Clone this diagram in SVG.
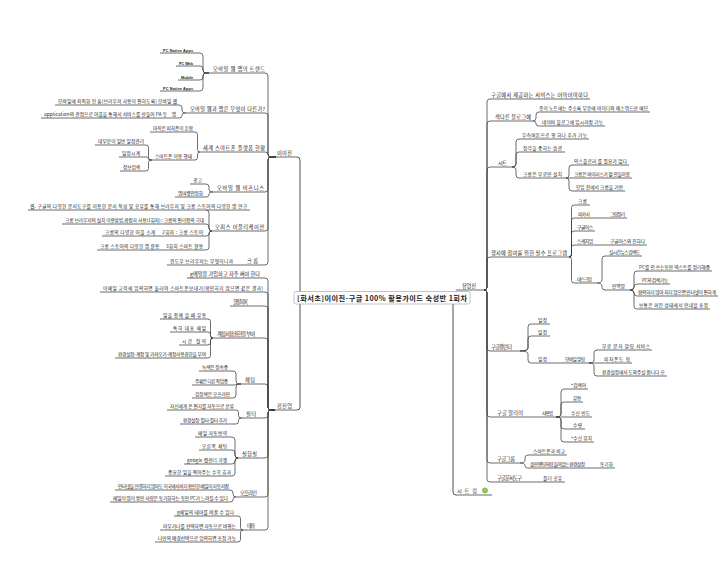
<svg xmlns="http://www.w3.org/2000/svg" width="720" height="566" viewBox="0 0 720 566">
<style>
text{font-family:"Noto Sans CJK KR","Noto Sans",sans-serif;fill:#1a1a1a;font-size:4.7px}
.n{font-size:5.2px}
.c{font-size:7.2px;font-weight:bold}
.en{font-family:"Liberation Sans",Arial,sans-serif;font-weight:bold;font-size:3.8px}
.u,.e{fill:none;stroke:#3c3c3c;stroke-width:0.75}
.e1{fill:none;stroke:#3c3c3c;stroke-width:0.9}
.box{fill:#fff;stroke:#9a9a9a;stroke-width:0.6}
</style>
<rect width="720" height="566" fill="#fff"/>
<g id="connectors">
<path class="e1" d="M300,291.5 V160 Q300,157 297,157"/>
<path class="e1" d="M300,304 V407 Q300,410 297,410"/>
<path class="e1" d="M453,304 V492 Q453,495 456,495 H457"/>
<path class="e" d="M265,73 Q268,73 268,76 V154 Q268,157 271,157 H276"/>
<path class="e" d="M265,113 Q268,113 268,116 V154 Q268,157 271,157 H276"/>
<path class="e" d="M265,152 Q268,152 268,154.5 Q268,157 270.5,157 H276"/>
<path class="e" d="M265,192 Q268,192 268,189 V160 Q268,157 271,157 H276"/>
<path class="e" d="M265,231 Q268,231 268,228 V160 Q268,157 271,157 H276"/>
<path class="e" d="M265,265 Q268,265 268,262 V160 Q268,157 271,157 H276"/>
<path class="e" d="M200,53 Q203,53 203,56 V70 Q203,73 206,73 H209"/>
<path class="e" d="M200,66 Q203,66 203,69 V70 Q203,73 206,73 H209"/>
<path class="e" d="M200,80 Q203,80 203,77 V76 Q203,73 206,73 H209"/>
<path class="e" d="M200,91 Q203,91 203,88 V76 Q203,73 206,73 H209"/>
<path class="e" d="M179,105 Q182,105 182,108 V110 Q182,113 185,113 H186"/>
<path class="e" d="M179,118 Q182,118 182,115.5 Q182,113 184.5,113 H186"/>
<path class="e" d="M195,132 Q197.5,132 197.5,134.5 V149.5 Q197.5,152 200,152"/>
<path class="e" d="M195,160 Q197.5,160 197.5,157.5 V154.5 Q197.5,152 200,152"/>
<path class="e" d="M146,145 Q148.5,145 148.5,147.5 V157.5 Q148.5,160 151,160 H152"/>
<path class="e" d="M146,157 Q148.5,157 148.5,158.5 Q148.5,160 150,160 H152"/>
<path class="e" d="M146,171 Q148.5,171 148.5,168.5 V162.5 Q148.5,160 151,160 H152"/>
<path class="e" d="M206,184 Q209,184 209,187 V189 Q209,192 212,192 H213"/>
<path class="e" d="M206,197 Q209,197 209,194.5 Q209,192 211.5,192 H213"/>
<path class="e" d="M206,210 Q209,210 209,213 V228 Q209,231 212,231"/>
<path class="e" d="M206,224 Q209,224 209,227 V228 Q209,231 212,231"/>
<path class="e" d="M206,236 Q209,236 209,233.5 Q209,231 211.5,231 H212"/>
<path class="e" d="M206,250 Q209,250 209,247 V234 Q209,231 212,231"/>
<path class="e" d="M265,278 Q268,278 268,281 V407 Q268,410 271,410 H275"/>
<path class="e" d="M265,292 Q268,292 268,295 V407 Q268,410 271,410 H275"/>
<path class="e" d="M265,306 Q268,306 268,309 V407 Q268,410 271,410 H275"/>
<path class="e" d="M265,338 Q268,338 268,341 V407 Q268,410 271,410 H275"/>
<path class="e" d="M265,384 Q268,384 268,387 V407 Q268,410 271,410 H275"/>
<path class="e" d="M265,418 Q268,418 268,415 V413 Q268,410 271,410 H275"/>
<path class="e" d="M265,458 Q268,458 268,455 V413 Q268,410 271,410 H275"/>
<path class="e" d="M265,497 Q268,497 268,494 V413 Q268,410 271,410 H275"/>
<path class="e" d="M265,530 Q268,530 268,527 V413 Q268,410 271,410 H275"/>
<path class="e" d="M208,319 Q210.5,319 210.5,321.5 V335.5 Q210.5,338 213,338"/>
<path class="e" d="M208,332 Q210.5,332 210.5,334.5 V335.5 Q210.5,338 213,338"/>
<path class="e" d="M208,345 Q210.5,345 210.5,342.5 V340.5 Q210.5,338 213,338"/>
<path class="e" d="M208,358 Q210.5,358 210.5,355.5 V340.5 Q210.5,338 213,338"/>
<path class="e" d="M233,371 Q236,371 236,374 V381 Q236,384 239,384 H241"/>
<path class="e" d="M233,385 C236,385 236,384 241,384"/>
<path class="e" d="M233,398 Q236,398 236,395 V387 Q236,384 239,384 H241"/>
<path class="e" d="M236,410 Q238.5,410 238.5,412.5 V415.5 Q238.5,418 241,418 H242"/>
<path class="e" d="M236,424 Q238.5,424 238.5,421.5 V420.5 Q238.5,418 241,418 H242"/>
<path class="e" d="M232,437 Q235,437 235,440 V455 Q235,458 238,458"/>
<path class="e" d="M232,450 Q235,450 235,453 V455 Q235,458 238,458"/>
<path class="e" d="M232,464 Q235,464 235,461 Q235,458 238,458"/>
<path class="e" d="M232,476 Q235,476 235,473 V461 Q235,458 238,458"/>
<path class="e" d="M230,490 Q233,490 233,493 V494 Q233,497 236,497"/>
<path class="e" d="M230,502 Q233,502 233,499.5 Q233,497 235.5,497 H236"/>
<path class="e" d="M238,516 Q240.5,516 240.5,518.5 V527.5 Q240.5,530 243,530"/>
<path class="e" d="M238,542 Q240.5,542 240.5,539.5 V532.5 Q240.5,530 243,530"/>
<path class="e" d="M484,290 Q487,290 487,287 V102 Q487,99 490,99"/>
<path class="e" d="M484,290 Q487,290 487,287 V124 Q487,121 490,121"/>
<path class="e" d="M484,290 Q487,290 487,287 V170 Q487,167 490,167"/>
<path class="e" d="M484,290 Q487,290 487,287 V260 Q487,257 490,257"/>
<path class="e" d="M484,290 Q487,290 487,293 V348 Q487,351 490,351"/>
<path class="e" d="M484,290 Q487,290 487,293 V414 Q487,417 490,417"/>
<path class="e" d="M484,290 Q487,290 487,293 V460 Q487,463 490,463"/>
<path class="e" d="M484,290 Q487,290 487,293 V479 Q487,482 490,482"/>
<path class="e" d="M533,121 Q536,121 536,118 V115 Q536,112 539,112"/>
<path class="e" d="M533,121 Q536,121 536,123.5 Q536,126 538.5,126 H539"/>
<path class="e" d="M512,167 Q516,167 516,164 V142 Q516,139 519,139"/>
<path class="e" d="M512,167 Q516,167 516,164 V155 Q516,152 519,152"/>
<path class="e" d="M512,167 Q516,167 516,170 V175 Q516,178 519,178"/>
<path class="e" d="M566,178 Q569,178 569,175 V168 Q569,165 572,165"/>
<path class="e" d="M566,178 Q569,178 569,181 V188 Q569,191 572,191"/>
<path class="e" d="M569,257 Q571.5,257 571.5,254.5 V207.5 Q571.5,205 574,205"/>
<path class="e" d="M569,257 Q571.5,257 571.5,254.5 V220.5 Q571.5,218 574,218"/>
<path class="e" d="M569,257 Q571.5,257 571.5,254.5 V233.5 Q571.5,231 574,231"/>
<path class="e" d="M569,257 Q571.5,257 571.5,254.5 V247.5 Q571.5,245 574,245"/>
<path class="e" d="M569,257 Q571.5,257 571.5,259.5 V280.5 Q571.5,283 574,283"/>
<path class="e" d="M597,283 Q602,283 602,280 V259 Q602,256 605,256"/>
<path class="e" d="M597,283 Q602,283 602,286 V287 Q602,290 605,290"/>
<path class="e" d="M630,290 Q634,290 634,287 V274 Q634,271 637,271"/>
<path class="e" d="M630,290 Q634,290 634,287 Q634,284 637,284"/>
<path class="e" d="M630,290 Q634,290 634,293 Q634,296 637,296"/>
<path class="e" d="M630,290 Q634,290 634,293 V306 Q634,309 637,309"/>
<path class="e" d="M520,351 Q528,351 528,348 V327 Q528,324 531,324"/>
<path class="e" d="M520,351 Q528,351 528,348 V339 Q528,336 531,336"/>
<path class="e" d="M520,351 Q528,351 528,354 V360 Q528,363 531,363"/>
<path class="e" d="M589,363 Q594,363 594,360 V353 Q594,350 597,350"/>
<path class="e" d="M589,363 Q594,363 594,366 V373 Q594,376 597,376"/>
<path class="e" d="M556,417 Q561,417 561,414 V392 Q561,389 564,389"/>
<path class="e" d="M556,417 Q561,417 561,414 V405 Q561,402 564,402"/>
<path class="e" d="M556,417 Q561,417 561,420 V426 Q561,429 564,429"/>
<path class="e" d="M556,417 Q561,417 561,420 V439 Q561,442 564,442"/>
<path class="e" d="M520,463 Q525,463 525,460 V458 Q525,455 528,455"/>
<path class="e" d="M520,463 Q525,463 525,465.5 Q525,468 527.5,468 H528"/>
</g>
<g id="root"><rect class="box" x="294" y="291.5" width="176" height="12.5" rx="2"/><text class="c" x="297" y="300.5" textLength="170">[화서초]이이진-구글 100% 활용가이드 숙성반 1회차</text></g>
<g id="yijin"><text class="n" x="277" y="155" textLength="15">이이진</text><path class="u" d="M276,157 H297"/></g>
<g id="kang"><text class="n" x="277" y="408" textLength="15">강진영</text><path class="u" d="M275,410 H297"/></g>
<g id="yoo"><text class="n" x="462" y="288" textLength="14">유영진</text><path class="u" d="M456,290 H484"/></g>
<g id="sheet-link"><text class="n" x="457" y="493" textLength="20">시트링</text><circle cx="485" cy="490.5" r="2.6" fill="#9c5" stroke="#5a3" stroke-width="0.6"/><path class="u" d="M457,495 H492"/></g>
<g id="n1"><text class="n" x="213" y="71" textLength="52">모바일 웹 앱의 트렌드</text><path class="u" d="M209,73 H265"/></g>
<g id="n1a"><text class="en" x="163" y="51.5" textLength="30">PC Native Apps</text><path class="u" d="M160,53 H200"/></g>
<g id="n1b"><text class="en" x="179" y="64.5" textLength="14">PC Web</text><path class="u" d="M176,66 H200"/></g>
<g id="n1c"><text class="en" x="181" y="78.5" textLength="12">Mobile</text><path class="u" d="M178,80 H200"/></g>
<g id="n1d"><text class="en" x="163" y="89.5" textLength="30">PC Native Apps</text><path class="u" d="M160,91 H200"/></g>
<g id="n2"><text class="n" x="190" y="111" textLength="75">모바일 웹과 앱은 무엇이 다른가?</text><path class="u" d="M186,113 H265"/></g>
<g id="n2a"><text x="58" y="103" textLength="119">모바일에 최적화 된 홈(브라우저 사용이 편하도록) 모바일 웹</text><path class="u" d="M55,105 H179"/></g>
<g id="n2b"><text x="44" y="116" textLength="132" xml:space="preserve">application의 관점으로 어플을 통해서 서비스를 만들어 PA 등    앱</text><path class="u" d="M41,118 H179"/></g>
<g id="n3"><text class="n" x="203" y="150" textLength="62">세계 스마트폰 플랫폼 현황</text><path class="u" d="M200,152 H265"/></g>
<g id="n3a"><text x="153" y="130" textLength="40">아직은 피처폰이 흔함</text><path class="u" d="M150,132 H195"/></g>
<g id="n3b"><text x="155" y="158" textLength="37">스마트폰 이용 행태</text><path class="u" d="M152,160 H195"/></g>
<g id="n3b1"><text x="98" y="143" textLength="46">대부분이 일반 일정관리</text><path class="u" d="M95,145 H146"/></g>
<g id="n3b2"><text x="122" y="155" textLength="18">일정시계</text><path class="u" d="M119,157 H146"/></g>
<g id="n3b3"><text x="123" y="169" textLength="17">정보검색</text><path class="u" d="M120,171 H146"/></g>
<g id="n4"><text class="n" x="217" y="190" textLength="47">모바일 웹 비즈니스</text><path class="u" d="M213,192 H265"/></g>
<g id="n4a"><text x="193" y="182" textLength="9">광고</text><path class="u" d="M190,184 H206"/></g>
<g id="n4b"><text x="178" y="195" textLength="25">앱마켓안정화</text><path class="u" d="M175,197 H206"/></g>
<g id="n5"><text class="n" x="215" y="229" textLength="49">오피스 어플리케이션</text><path class="u" d="M212,231 H265"/></g>
<g id="n5a"><text x="30" y="208" textLength="217">웹. 구글의 다양한 문서도구를 이용한 문서 작성 및 공유를 통해 브라우저 및 크롬 스토어의 다양한 앱 연구</text><path class="u" d="M28,210 H250"/></g>
<g id="n5b"><text x="65" y="222" textLength="139">크롬 브라우저의 설치 이용방법,확장자 사용(1회차) : 크롬의 편리함의 극대</text><path class="u" d="M62,224 H206"/></g>
<g id="n5c"><text x="105" y="234" textLength="98" xml:space="preserve">크롬의 다양한 어플 소개     2회차 : 크롬 스토어</text><path class="u" d="M102,236 H206"/></g>
<g id="n5d"><text x="100" y="248" textLength="103" xml:space="preserve">크롬 스토어의 다양한 앱 활용     3회차 스마트 활용</text><path class="u" d="M97,250 H206"/></g>
<g id="n6"><text class="n" x="247" y="263" textLength="11">크롬</text><path class="u" d="M243,265 H265"/></g>
<g id="n6a"><text x="170" y="263" textLength="63">윈도우 브라우저는 무엇이니까</text><path class="u" d="M167,265 H243"/></g>
<g id="m1"><text class="n" x="190" y="276" textLength="70">g메일을 가입하고 자주 써야 한다</text><path class="u" d="M187,278 H265"/></g>
<g id="m2"><text x="103" y="290" textLength="160">이메일 교육에 입력하면 둘러야 스마트폰보내기(확인하지 않으면 같은 결과)</text><path class="u" d="M100,292 H265"/></g>
<g id="m3"><text class="n" x="233" y="304" textLength="15">할 일 목록</text><path class="u" d="M230,306 H265"/></g>
<g id="m4"><text class="n" x="217" y="336" textLength="38">계정사용권한을 부여</text><path class="u" d="M213,338 H265"/></g>
<g id="m4a"><text x="163" y="317" textLength="43">일을 함께 할 때 유용</text><path class="u" d="M160,319 H208"/></g>
<g id="m4b"><text x="173" y="330" textLength="33">특히 대표 메일</text><path class="u" d="M170,332 H208"/></g>
<g id="m4c"><text x="182" y="343" textLength="24">시간 절약</text><path class="u" d="M179,345 H208"/></g>
<g id="m4d"><text x="118" y="356" textLength="88">환경설정-계정 및 가져오기-계정사용권한을 부여</text><path class="u" d="M115,358 H208"/></g>
<g id="m5"><text class="n" x="245" y="382" textLength="10">채팅</text><path class="u" d="M241,384 H265"/></g>
<g id="m5a"><text x="202" y="369" textLength="26">녹색은 접속중</text><path class="u" d="M199,371 H233"/></g>
<g id="m5b"><text x="195" y="383" textLength="33">주황은 다른 작업중</text><path class="u" d="M192,385 H233"/></g>
<g id="m5c"><text x="195" y="396" textLength="35">검정색은 오프라인</text><path class="u" d="M192,398 H233"/></g>
<g id="m6"><text class="n" x="246" y="416" textLength="10">필터</text><path class="u" d="M242,418 H265"/></g>
<g id="m6a"><text x="170" y="408" textLength="64">자신에게 온 편지를 자동으로 분류</text><path class="u" d="M167,410 H236"/></g>
<g id="m6b"><text x="183" y="422" textLength="44">환경설정-필터-필터 추가</text><path class="u" d="M180,424 H236"/></g>
<g id="m7"><text class="n" x="242" y="456" textLength="15">실험실</text><path class="u" d="M238,458 H265"/></g>
<g id="m7a"><text x="198" y="435" textLength="29">메일 자동번역</text><path class="u" d="M195,437 H232"/></g>
<g id="m7b"><text x="202" y="448" textLength="25">오른쪽 채팅</text><path class="u" d="M199,450 H232"/></g>
<g id="m7c"><text x="187" y="462" textLength="40">google 캘린더 가젯</text><path class="u" d="M184,464 H232"/></g>
<g id="m7d"><text x="168" y="474" textLength="63">중요한 일을 찍어주는 수학 효과</text><path class="u" d="M165,476 H232"/></g>
<g id="m8"><text class="n" x="240" y="495" textLength="17">오프라인</text><path class="u" d="M236,497 H265"/></g>
<g id="m8a"><text x="118" y="488" textLength="111">인터넷을 연결하지 않아도 이국에서까지 확인한 메일이 자동저장</text><path class="u" d="M115,490 H230"/></g>
<g id="m8b"><text x="113" y="500" textLength="115">메일이 많이 쌓인 사람은 동기화하는 동안 PC가 느려질 수 있다</text><path class="u" d="M110,502 H230"/></g>
<g id="m9"><text class="n" x="247" y="528" textLength="8">테마</text><path class="u" d="M243,530 H265"/></g>
<g id="m9a"><text x="177" y="514" textLength="57">g메일의 테마를 바꿀 수 있다</text><path class="u" d="M174,516 H238"/></g>
<g id="m9b"><text x="163" y="528" textLength="73">아무거나를 선택하면 자동으로 바뀌는</text><path class="u" d="M160,530 H243"/></g>
<g id="m9c"><text x="158" y="540" textLength="78">나만의 배경선택으로 입력하면 조정 가능</text><path class="u" d="M155,542 H238"/></g>
<g id="r1"><text class="n" x="491" y="97" textLength="97">구글에서 제공하는 서비스는 어마어마하다</text><path class="u" d="M490,99 H590"/></g>
<g id="r2"><text class="n" x="495" y="119" textLength="36">색다른 블로그에</text><path class="u" d="M490,121 H533"/></g>
<g id="r2a"><text x="539" y="110" textLength="109">종이 노트에는 주소록 부분에 아이디와 패스워드만 메모</text><path class="u" d="M539,112 H650"/></g>
<g id="r2b"><text x="542" y="124" textLength="61">네이버 블로그에 임시저장 기능</text><path class="u" d="M539,126 H605"/></g>
<g id="r3"><text class="n" x="498" y="165" textLength="9">시트</text><path class="u" d="M490,167 H512"/></g>
<g id="r3a"><text x="522" y="137" textLength="65">우측버튼으로 행 하나 추가 기능</text><path class="u" d="M519,139 H589"/></g>
<g id="r3b"><text x="523" y="150" textLength="39">정각을 중하는 습관</text><path class="u" d="M519,152 H565"/></g>
<g id="r3c"><text x="523" y="176" textLength="39">크롬은 무료인 설치</text><path class="u" d="M519,178 H566"/></g>
<g id="r3c1"><text x="574" y="163" textLength="53">익스플로러 를 필요가 없다</text><path class="u" d="M572,165 H629"/></g>
<g id="r3c2"><text x="574" y="176" textLength="56">크롬은 바이러스가 잘 안들어옴</text><path class="u" d="M566,178 H632"/></g>
<g id="r3c3"><text x="576" y="189" textLength="47">모임 전에서 크롬을 기반</text><path class="u" d="M572,191 H625"/></g>
<g id="r4"><text class="n" x="491" y="255" textLength="76">행사에 참여를 위한 필수 프로그램</text><path class="u" d="M490,257 H569"/></g>
<g id="r4a"><text x="578" y="203" textLength="9">크롬</text><path class="u" d="M574,205 H590"/></g>
<g id="r4b"><text x="578" y="216" textLength="12">피카사</text><path class="u" d="M574,218 H606"/></g>
<g id="r4b1"><text x="610" y="216" textLength="15">그림정리</text><path class="u" d="M606,218 H627"/></g>
<g id="r4c"><text x="577" y="229" textLength="16">구글어스</text><path class="u" d="M574,231 H595"/></g>
<g id="r4d"><text x="577" y="243" textLength="16">스케치업</text><path class="u" d="M574,245 H606"/></g>
<g id="r4d1"><text x="610" y="243" textLength="35">구글어스와 친하다</text><path class="u" d="M606,245 H647"/></g>
<g id="r4e"><text x="577" y="281" textLength="15">데스크탑</text><path class="u" d="M574,283 H597"/></g>
<g id="r4e1"><text x="609" y="254" textLength="31">실시간 뉴스 검색도</text><path class="u" d="M605,256 H642"/></g>
<g id="r4e2"><text x="612" y="288" textLength="13">인맥망</text><path class="u" d="M605,290 H630"/></g>
<g id="r4e2a"><text x="639" y="269" textLength="71">PC를 안 쓰는동안 텍스트를 정리해줌</text><path class="u" d="M637,271 H712"/></g>
<g id="r4e2b"><text x="642" y="282" textLength="26">PC의 검색기능</text><path class="u" d="M637,284 H670"/></g>
<g id="r4e2c"><text x="638" y="294" textLength="78">협력하지 않아 처지 않으면 인터넷이 편하게</text><path class="u" d="M637,296 H718"/></g>
<g id="r4e2d"><text x="639" y="307" textLength="69">보통은 꺼진 상태에서 안내할 표정</text><path class="u" d="M637,309 H710"/></g>
<g id="r5"><text class="n" x="491" y="349" textLength="21">구글캘린더</text><path class="u" d="M490,351 H520"/></g>
<g id="r5a"><text x="538" y="322" textLength="9">일정</text><path class="u" d="M531,324 H550"/></g>
<g id="r5b"><text x="538" y="334" textLength="9">일정</text><path class="u" d="M531,336 H550"/></g>
<g id="r5c"><text x="538" y="361" textLength="9">일정</text><path class="u" d="M531,363 H560"/></g>
<g id="r5c1"><text x="565" y="361" textLength="20">모바일 알림</text><path class="u" d="M560,363 H589"/></g>
<g id="r5c1a"><text x="602" y="348" textLength="48">무료 문자 알림 서비스</text><path class="u" d="M597,350 H652"/></g>
<g id="r5c1b"><text x="604" y="361" textLength="26">피처폰도 됨</text><path class="u" d="M589,363 H632"/></g>
<g id="r5c1c"><text x="602" y="374" textLength="63">환경설정에서 도와주실 합니다 ※</text><path class="u" d="M597,376 H667"/></g>
<g id="r6"><text class="n" x="497" y="415" textLength="26">구글 알리미</text><path class="u" d="M490,417 H536"/></g>
<g id="r6a"><text x="542" y="415" textLength="11">사용법</text><path class="u" d="M536,417 H556"/></g>
<g id="r6a1"><text x="571" y="387" textLength="15">*검색어</text><path class="u" d="M564,389 H588"/></g>
<g id="r6a2"><text x="573" y="400" textLength="8">유형</text><path class="u" d="M564,402 H583"/></g>
<g id="r6a3"><text x="571" y="415" textLength="19">수신 빈도</text><path class="u" d="M556,417 H592"/></g>
<g id="r6a4"><text x="573" y="427" textLength="9">수량</text><path class="u" d="M564,429 H585"/></g>
<g id="r6a5"><text x="571" y="440" textLength="21">*수신 위치</text><path class="u" d="M564,442 H594"/></g>
<g id="r7"><text class="n" x="497" y="461" textLength="18">구글그룹</text><path class="u" d="M490,463 H520"/></g>
<g id="r7a"><text x="533" y="453" textLength="32">스마트폰과 비교</text><path class="u" d="M528,455 H567"/></g>
<g id="r7b"><text x="530" y="466" textLength="55">클린엔팅처럼 들어있는 환경설정</text><path class="u" d="M528,468 H597"/></g>
<g id="r7b1"><text x="600" y="466" textLength="13">동기화</text><path class="u" d="M597,468 H615"/></g>
<g id="r8"><text class="n" x="497" y="480" textLength="25">구글 문서도구</text><path class="u" d="M490,482 H538"/></g>
<g id="r8a"><text x="543" y="480" textLength="19">폴더 공유</text><path class="u" d="M538,482 H565"/></g>
</svg>
